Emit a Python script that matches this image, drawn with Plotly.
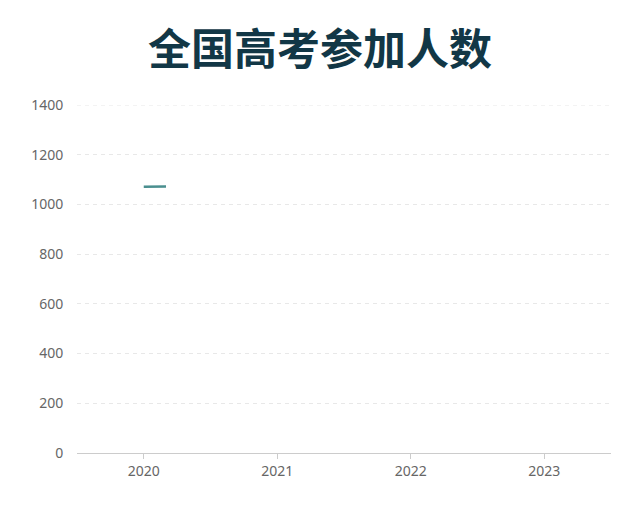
import plotly.graph_objects as go

# ---- data ----
years = [2020, 2021, 2022, 2023]
participants = [1071, 1078, 1193, 1291]  # 万人
y_ticks = [0, 200, 400, 600, 800, 1000, 1200, 1400]
title_text = "全国高考参加人数"

# fraction of the plot width the line animation has revealed in the reference frame
reveal_frac = 0.1667

x_lo, x_hi = years[0] - 0.5, years[-1] + 0.5
y_lo, y_hi = y_ticks[0], y_ticks[-1]

grid_color = "#e8e8e8"
grid_dash = "4px,4px"

fig = go.Figure()

# empty trace on main axes to build the frame
fig.add_trace(go.Scatter(x=years, y=participants, mode="lines",
                         line=dict(color="rgba(0,0,0,0)"), hoverinfo="skip",
                         showlegend=False, xaxis="x", yaxis="y"))

# the (partially revealed) line, clipped by a narrower subplot sharing the same scale
fig.add_trace(go.Scatter(x=years, y=participants, mode="lines",
                         line=dict(color="#4a8f8f", width=2.6),
                         showlegend=False, xaxis="x2", yaxis="y2"))

# top gridline (plotly skips the gridline at the range edge)
fig.add_shape(type="line", xref="paper", x0=0, x1=1, yref="y", y0=y_hi, y1=y_hi,
              line=dict(color=grid_color, width=1, dash=grid_dash), layer="below")

font_cjk = "Noto Sans CJK SC, Noto Sans, sans-serif"
font_num = "Noto Sans, Roboto, sans-serif"

fig.update_layout(
    width=640, height=520,
    margin=dict(l=69, r=37, t=97, b=75),
    paper_bgcolor="white",
    plot_bgcolor="rgba(0,0,0,0)",
    font=dict(family=font_num, color="#666666", size=14),
    title=dict(text=f"<b>{title_text}</b>", x=0.4875, xanchor="center",
               y=1 - 42 / 520, yanchor="middle", yref="container",
               font=dict(size=43, color="#123746", family=font_cjk)),
    xaxis=dict(range=[x_lo, x_hi], tickvals=years, ticktext=[str(y) for y in years],
               showgrid=False, zeroline=False, showline=True, linecolor="#cccccc",
               linewidth=1, ticks="outside", ticklen=5, tickcolor="#cccccc",
               tickfont=dict(size=14, color="#666666", family=font_num), domain=[0, 1]),
    yaxis=dict(range=[y_lo, y_hi], tickvals=y_ticks, showgrid=True,
               gridcolor=grid_color, griddash=grid_dash, gridwidth=1,
               zeroline=False, showline=False, ticks="outside", ticklen=10,
               tickcolor="rgba(0,0,0,0)",
               tickfont=dict(size=14, color="#666666", family=font_num), domain=[0, 1]),
    xaxis2=dict(range=[x_lo, x_lo + (x_hi - x_lo) * reveal_frac],
                domain=[0, reveal_frac], visible=False, anchor="y2"),
    yaxis2=dict(range=[y_lo, y_hi], domain=[0, 1], visible=False, anchor="x2"),
)

fig.write_html("out.html")
